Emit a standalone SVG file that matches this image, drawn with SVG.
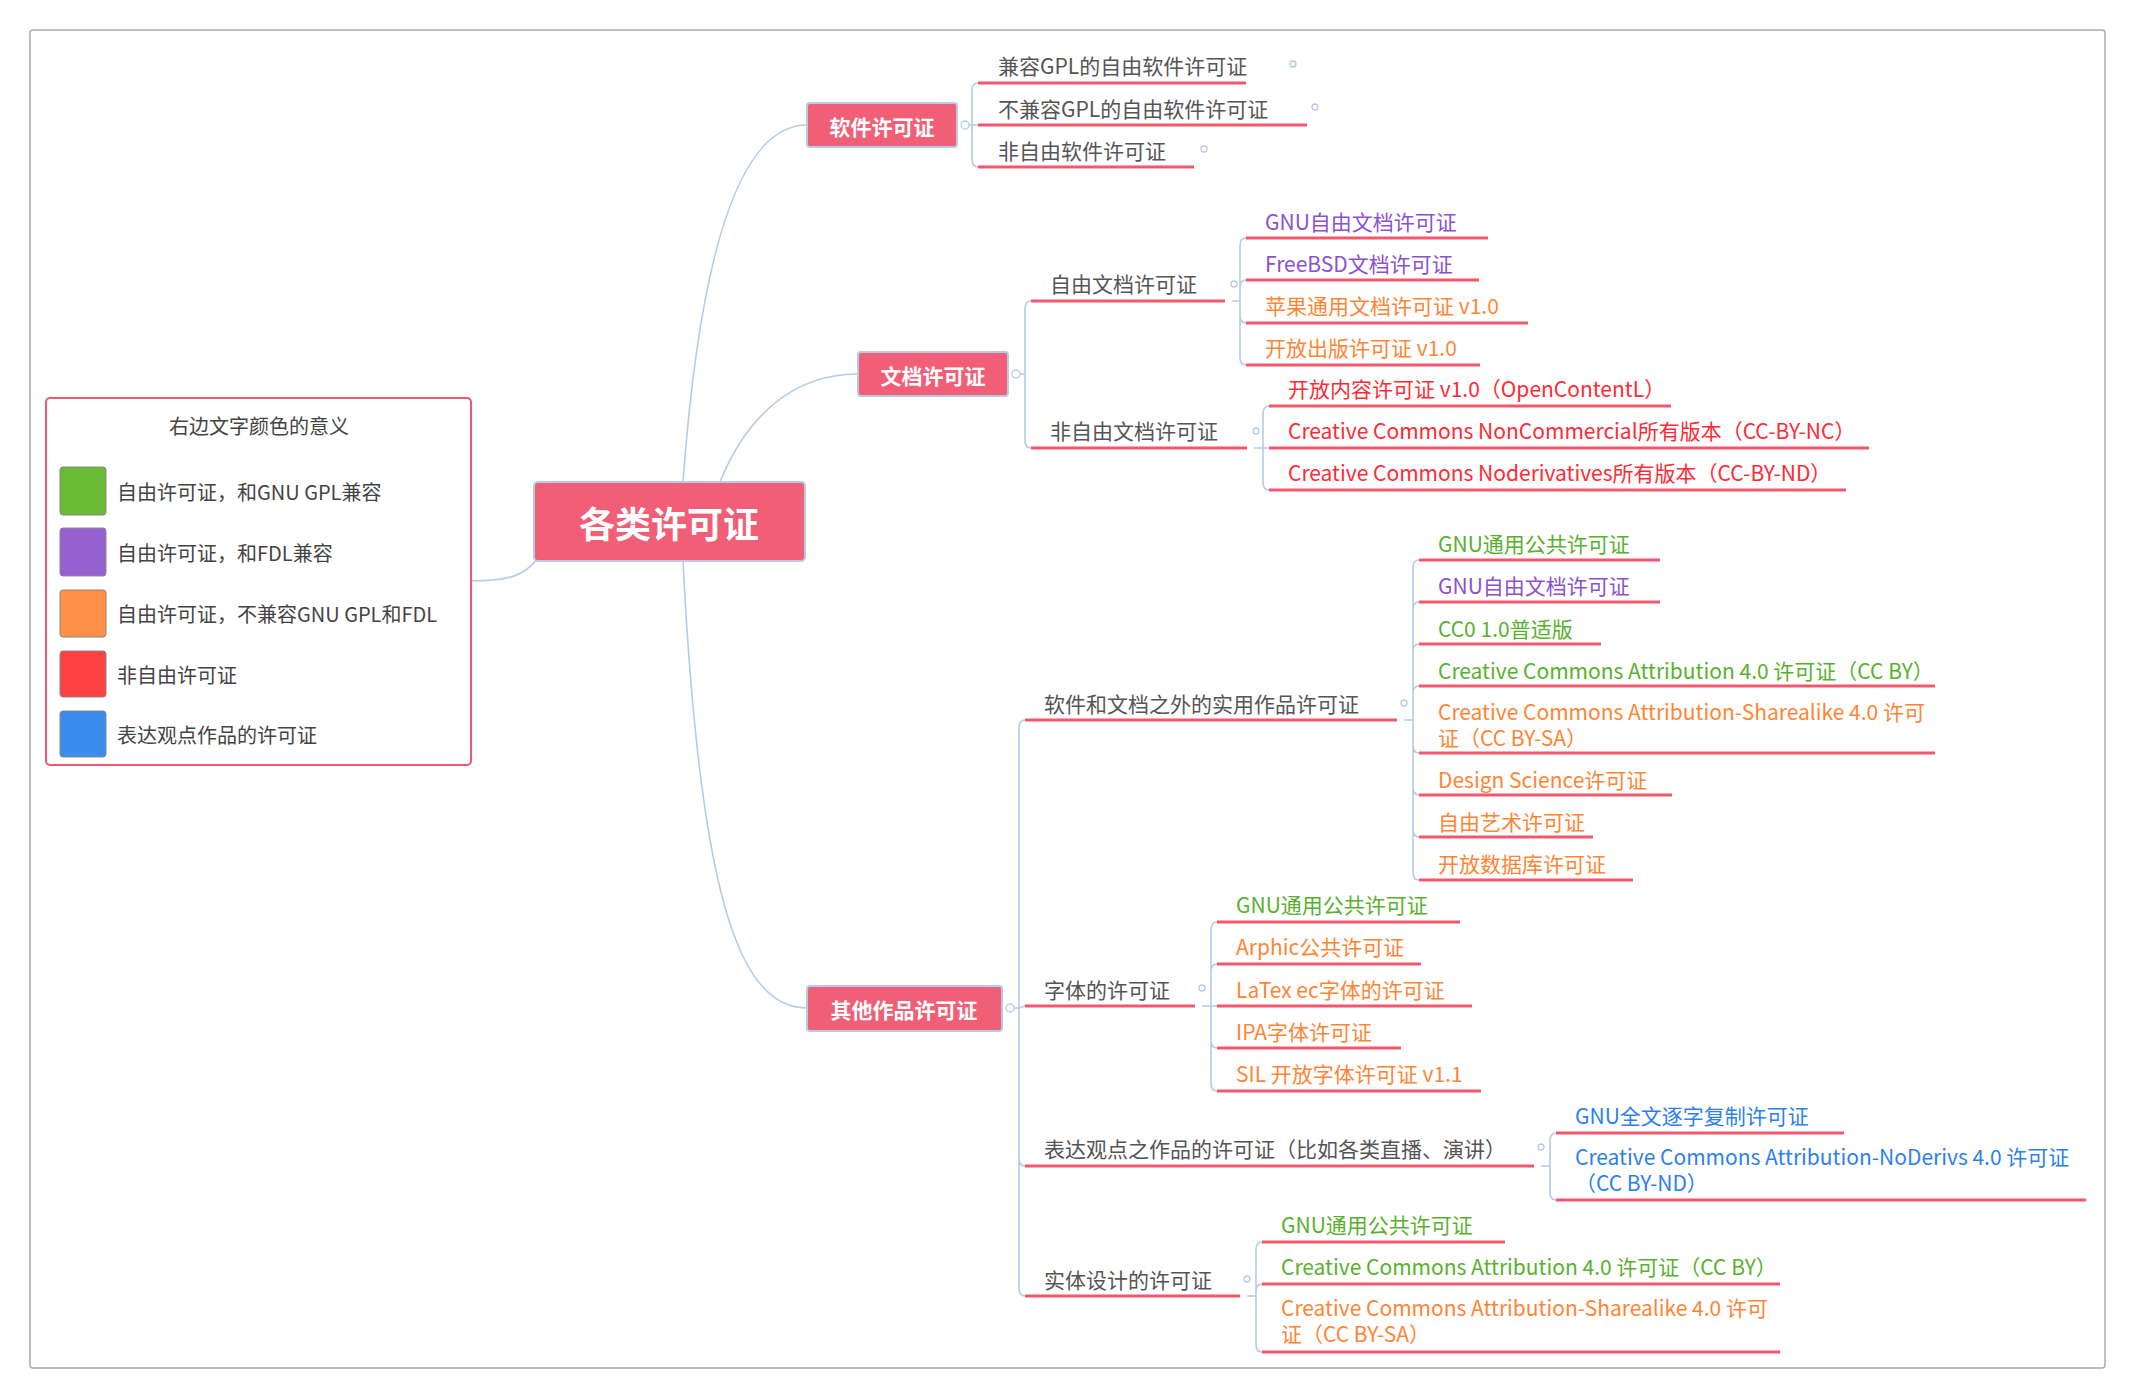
<svg xmlns="http://www.w3.org/2000/svg" width="2135" height="1400" viewBox="0 0 2135 1400">
<style>
text{font-family:"Noto Sans CJK SC","Liberation Sans",sans-serif;dominant-baseline:central}
.t{font-size:21px}
.g{fill:#555}.gr{fill:#58b12e}.pu{fill:#8b50d3}.or{fill:#ff8534}.rd{fill:#ff2a35}.bl{fill:#2d7ff0}
.ul{stroke:#f2576f;stroke-width:3;fill:none}
.c{stroke:#b6cbe6;stroke-width:1.6;fill:none}
.box{fill:#f05f76;stroke:#b6cbe6;stroke-width:2}
.bt{fill:#fff;font-weight:bold}
.dot{fill:#fff;stroke:#b6cbe6;stroke-width:1.3}
.sw{stroke:#888;stroke-width:1}
.lg{font-size:20px;fill:#444}
</style>
<rect x="30" y="30" width="2075" height="1338" rx="3" fill="#fff" stroke="#aaa" stroke-width="1.5"/>
<g id="connectors">
<path class="c" d="M471 581 C510 581,525 575,538 558"/>
<path class="c" d="M683 482 C700 250,740 125,807 125"/>
<path class="c" d="M720 482 C745 420,790 374,858 374"/>
<path class="c" d="M683 561 C700 900,740 1008,807 1008"/>
<path class="c" d="M963 125 L972 125 L972 91 Q972 83 978 83 M972 125 L972 125 L978 125 M972 125 L972 159 Q972 167 978 167"/>
<path class="c" d="M1014 374 L1025 374 L1025 309 Q1025 301 1031 301 M1025 374 L1025 440 Q1025 448 1031 448"/>
<path class="c" d="M1232 301 L1240 301 L1240 246 Q1240 238 1246 238 M1240 301 L1240 288 Q1240 280 1246 280 M1240 301 L1240 315 Q1240 323 1246 323 M1240 301 L1240 357 Q1240 365 1246 365"/>
<path class="c" d="M1254 448 L1263 448 L1263 414 Q1263 406 1269 406 M1263 448 L1269 448 M1263 448 L1263 482 Q1263 490 1269 490"/>
<path class="c" d="M1008 1008 L1019 1008 L1019 728 Q1019 720 1025 720 M1019 1008 L1025 1006 M1019 1008 L1019 1158 Q1019 1166 1025 1166 M1019 1008 L1019 1288 Q1019 1296 1025 1296"/>
<path class="c" d="M1404 720 L1413 720 L1413 568 Q1413 560 1419 560 M1413 720 L1413 610 Q1413 602 1419 602 M1413 720 L1413 652 Q1413 644 1419 644 M1413 720 L1413 694 Q1413 686 1419 686 M1413 720 L1413 745 Q1413 753 1419 753 M1413 720 L1413 787 Q1413 795 1419 795 M1413 720 L1413 829 Q1413 837 1419 837 M1413 720 L1413 872 Q1413 880 1419 880"/>
<path class="c" d="M1202 1006 L1211 1006 L1211 930 Q1211 922 1217 922 M1211 1006 L1211 972 Q1211 964 1217 964 M1211 1006 L1217 1006 M1211 1006 L1211 1040 Q1211 1048 1217 1048 M1211 1006 L1211 1083 Q1211 1091 1217 1091"/>
<path class="c" d="M1541 1166 L1550 1166 L1550 1141 Q1550 1133 1556 1133 M1550 1166 L1550 1192 Q1550 1200 1556 1200"/>
<path class="c" d="M1247 1296 L1256 1296 L1256 1250 Q1256 1242 1262 1242 M1256 1296 L1256 1292 Q1256 1284 1262 1284 M1256 1296 L1256 1344 Q1256 1352 1262 1352"/>
</g>
<g id="legend">
<rect x="46" y="398" width="425" height="367" rx="4" fill="#fff" stroke="#f2576f" stroke-width="2"/>
<text x="259" y="425" class="lg" text-anchor="middle">右边文字颜色的意义</text>
<rect class="sw" x="60" y="467" width="46" height="48" rx="3" fill="#68bb32"/>
<rect class="sw" x="60" y="528" width="46" height="48" rx="3" fill="#9760d0"/>
<rect class="sw" x="60" y="590" width="46" height="47" rx="3" fill="#ff9047"/>
<rect class="sw" x="60" y="651" width="46" height="46" rx="3" fill="#ff4040"/>
<rect class="sw" x="60" y="711" width="46" height="46" rx="3" fill="#3a8cee"/>
<text x="117" y="491" class="lg">自由许可证，和GNU GPL兼容</text>
<text x="117" y="552" class="lg">自由许可证，和FDL兼容</text>
<text x="117" y="613" class="lg">自由许可证，不兼容GNU GPL和FDL</text>
<text x="117" y="674" class="lg">非自由许可证</text>
<text x="117" y="734" class="lg">表达观点作品的许可证</text>
</g>
<g id="root"><rect class="box" x="534" y="482" width="271" height="79" rx="4"/><text x="669" y="522" class="bt" font-size="36" text-anchor="middle">各类许可证</text></g>
<g id="software"><rect class="box" x="807" y="103" width="150" height="44" rx="3"/><text x="882" y="126" class="bt" font-size="21" text-anchor="middle">软件许可证</text><circle class="dot" cx="965" cy="125" r="4"/></g>
<g id="doc"><rect class="box" x="858" y="352" width="150" height="44" rx="3"/><text x="933" y="375" class="bt" font-size="21" text-anchor="middle">文档许可证</text><circle class="dot" cx="1016" cy="374" r="4"/></g>
<g id="other"><rect class="box" x="807" y="986" width="195" height="45" rx="3"/><text x="904" y="1009" class="bt" font-size="21" text-anchor="middle">其他作品许可证</text><circle class="dot" cx="1010" cy="1008" r="4"/></g>

<g id="sw-items">
<text x="998" y="65" class="t g">兼容GPL的自由软件许可证</text><path class="ul" d="M978 83H1246"/><circle class="dot" cx="1293" cy="64" r="3"/>
<text x="998" y="108" class="t g">不兼容GPL的自由软件许可证</text><path class="ul" d="M978 125H1307"/><circle class="dot" cx="1315" cy="107" r="3"/>
<text x="998" y="150" class="t g">非自由软件许可证</text><path class="ul" d="M978 167H1194"/><circle class="dot" cx="1204" cy="149" r="3"/>
</g>
<g id="doc-items">
<text x="1050" y="283" class="t g">自由文档许可证</text><path class="ul" d="M1031 301H1225"/><circle class="dot" cx="1234" cy="284" r="3"/>
<text x="1050" y="430" class="t g">非自由文档许可证</text><path class="ul" d="M1031 448H1247"/><circle class="dot" cx="1256" cy="431" r="3"/>
<text x="1265" y="221" class="t pu">GNU自由文档许可证</text><path class="ul" d="M1246 238H1488"/>
<text x="1265" y="263" class="t pu">FreeBSD文档许可证</text><path class="ul" d="M1246 280H1479"/>
<text x="1265" y="305" class="t or">苹果通用文档许可证 v1.0</text><path class="ul" d="M1246 323H1528"/>
<text x="1265" y="347" class="t or">开放出版许可证 v1.0</text><path class="ul" d="M1246 365H1480"/>
<text x="1288" y="388" class="t rd">开放内容许可证 v1.0（OpenContentL）</text><path class="ul" d="M1269 406H1671"/>
<text x="1288" y="430" class="t rd">Creative Commons NonCommercial所有版本（CC-BY-NC）</text><path class="ul" d="M1269 448H1869"/>
<text x="1288" y="472" class="t rd">Creative Commons Noderivatives所有版本（CC-BY-ND）</text><path class="ul" d="M1269 490H1846"/>
</g>
<g id="other-items">
<text x="1044" y="703" class="t g">软件和文档之外的实用作品许可证</text><path class="ul" d="M1025 720H1397"/><circle class="dot" cx="1404" cy="703" r="3"/>
<text x="1044" y="989" class="t g">字体的许可证</text><path class="ul" d="M1025 1006H1195"/><circle class="dot" cx="1202" cy="988" r="3"/>
<text x="1044" y="1148" class="t g">表达观点之作品的许可证（比如各类直播、演讲）</text><path class="ul" d="M1025 1166H1534"/><circle class="dot" cx="1541" cy="1147" r="3"/>
<text x="1044" y="1279" class="t g">实体设计的许可证</text><path class="ul" d="M1025 1296H1240"/><circle class="dot" cx="1247" cy="1279" r="3"/>
</g>
<g id="practical-items">
<text x="1438" y="543" class="t gr">GNU通用公共许可证</text><path class="ul" d="M1419 560H1660"/>
<text x="1438" y="585" class="t pu">GNU自由文档许可证</text><path class="ul" d="M1419 602H1660"/>
<text x="1438" y="628" class="t gr">CC0 1.0普适版</text><path class="ul" d="M1419 644H1601"/>
<text x="1438" y="670" class="t gr">Creative Commons Attribution 4.0 许可证（CC BY）</text><path class="ul" d="M1419 686H1935"/>
<text x="1438" y="711" class="t or">Creative Commons Attribution-Sharealike 4.0 许可</text>
<text x="1438" y="737" class="t or">证（CC BY-SA）</text><path class="ul" d="M1419 753H1935"/>
<text x="1438" y="779" class="t or">Design Science许可证</text><path class="ul" d="M1419 795H1672"/>
<text x="1438" y="821" class="t or">自由艺术许可证</text><path class="ul" d="M1419 837H1593"/>
<text x="1438" y="863" class="t or">开放数据库许可证</text><path class="ul" d="M1419 880H1633"/>
</g>
<g id="font-items">
<text x="1236" y="904" class="t gr">GNU通用公共许可证</text><path class="ul" d="M1217 922H1460"/>
<text x="1236" y="946" class="t or">Arphic公共许可证</text><path class="ul" d="M1217 964H1421"/>
<text x="1236" y="989" class="t or">LaTex ec字体的许可证</text><path class="ul" d="M1217 1006H1472"/>
<text x="1236" y="1031" class="t or">IPA字体许可证</text><path class="ul" d="M1217 1048H1401"/>
<text x="1236" y="1073" class="t or">SIL 开放字体许可证 v1.1</text><path class="ul" d="M1217 1091H1481"/>
</g>
<g id="expr-items">
<text x="1575" y="1115" class="t bl">GNU全文逐字复制许可证</text><path class="ul" d="M1556 1133H1844"/>
<text x="1575" y="1156" class="t bl">Creative Commons Attribution-NoDerivs 4.0 许可证</text>
<text x="1575" y="1182" class="t bl">（CC BY-ND）</text><path class="ul" d="M1556 1200H2086"/>
</g>
<g id="physical-items">
<text x="1281" y="1224" class="t gr">GNU通用公共许可证</text><path class="ul" d="M1262 1242H1505"/>
<text x="1281" y="1266" class="t gr">Creative Commons Attribution 4.0 许可证（CC BY）</text><path class="ul" d="M1262 1284H1780"/>
<text x="1281" y="1307" class="t or">Creative Commons Attribution-Sharealike 4.0 许可</text>
<text x="1281" y="1333" class="t or">证（CC BY-SA）</text><path class="ul" d="M1262 1352H1780"/>
</g>
</svg>
